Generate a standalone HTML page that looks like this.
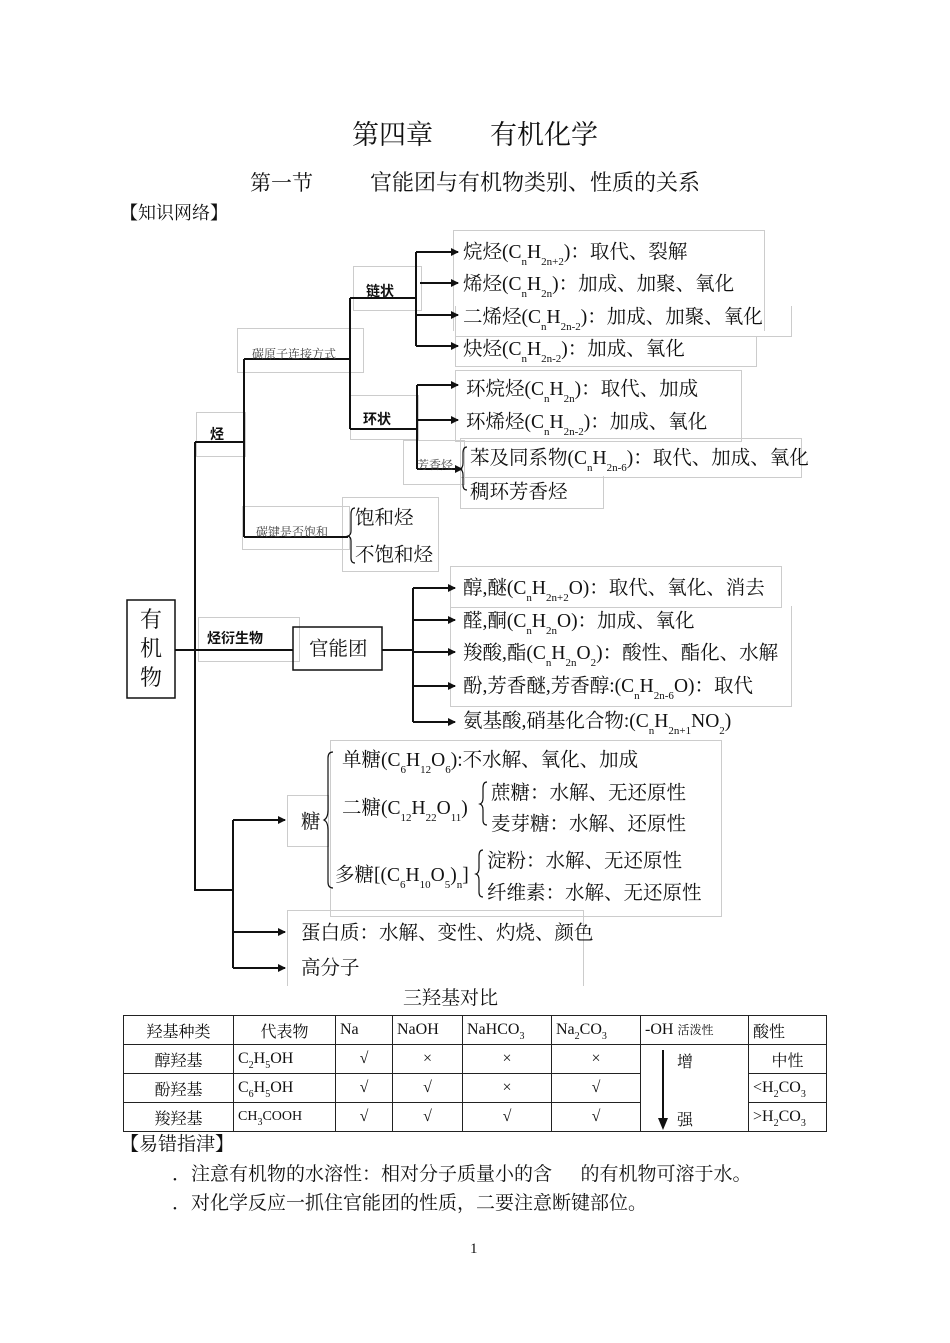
<!DOCTYPE html>
<html><head><meta charset="utf-8"><style>
body{margin:0;background:#fff;}
#p{position:relative;width:950px;height:1343px;overflow:hidden;font-family:"Liberation Serif","Noto Serif CJK SC","Noto Sans CJK SC",serif;color:#111;}
.t{position:absolute;white-space:nowrap;font-size:19.5px;line-height:22px;}
.s{position:absolute;white-space:nowrap;font-size:12px;line-height:14px;color:#444;}
.b{position:absolute;white-space:nowrap;font-size:14px;line-height:16px;font-weight:bold;font-family:"Liberation Sans","Noto Sans CJK SC",sans-serif;}
sub{font-size:11px;vertical-align:-7px;line-height:0;}
.g{position:absolute;border:1px solid #ccc;}
table{position:absolute;left:123px;top:1015px;border-collapse:collapse;font-size:16px;}
td{border:1px solid #222;height:28px;padding:0 4px;white-space:nowrap;}
td sub{font-size:10px;vertical-align:-5px;}
</style></head><body><div id="p">
<div class="t" style="left:352px;top:119px;font-size:27px;line-height:32px;">第四章</div>
<div class="t" style="left:490px;top:119px;font-size:27px;line-height:32px;">有机化学</div>
<div class="t" style="left:250px;top:171px;font-size:21px;line-height:24px;">第一节</div>
<div class="t" style="left:370px;top:171px;font-size:22px;line-height:24px;">官能团与有机物类别、性质的关系</div>
<div class="t" style="left:120px;top:202px;font-size:18px;">【知识网络】</div>

<!-- grey boxes -->
<div class="g" style="left:196px;top:412px;width:48px;height:43px"></div>
<div class="g" style="left:237px;top:328px;width:125px;height:43px"></div>
<div class="g" style="left:353px;top:266px;width:67px;height:43px"></div>
<div class="g" style="left:350px;top:395px;width:67px;height:43px"></div>
<div class="g" style="left:403px;top:440px;width:60px;height:43px"></div>
<div class="g" style="left:242px;top:506px;width:106px;height:42px"></div>
<div class="g" style="left:453px;top:230px;width:310px;height:100px;border-bottom:none"></div>
<div class="g" style="left:455px;top:306px;width:335px;height:30px;border-top:none"></div>
<div class="g" style="left:455px;top:336px;width:300px;height:30px;border-top:none"></div>
<div class="g" style="left:455px;top:370px;width:285px;height:70px;"></div>
<div class="g" style="left:460px;top:438px;width:340px;height:38px;"></div>
<div class="g" style="left:460px;top:476px;width:142px;height:32px;border-top:none"></div>
<div class="g" style="left:342px;top:497px;width:95px;height:73px;"></div>
<div class="g" style="left:198px;top:617px;width:100px;height:43px;"></div>
<div class="g" style="left:450px;top:566px;width:330px;height:40px;"></div>
<div class="g" style="left:450px;top:606px;width:340px;height:100px;border-top:none"></div>
<div class="g" style="left:330px;top:740px;width:390px;height:175px;"></div>
<div class="g" style="left:287px;top:795px;width:40px;height:50px;"></div>
<div class="g" style="left:287px;top:910px;width:295px;height:75px;border-bottom:none"></div>

<svg width="950" height="1343" style="position:absolute;left:0;top:0" fill="none" stroke="#111">
<defs><marker id="a" markerWidth="8" markerHeight="8" refX="7" refY="4" orient="auto" markerUnits="userSpaceOnUse"><path d="M0,0L8,4L0,8z" fill="#111" stroke="none"/></marker></defs>
<g stroke-width="2">
<path d="M195,442V890H233"/>
<path d="M175,650H293"/>
<path d="M195,442H244M244,359V537M244,359H350M350,298V429M350,298H416M416,252V346M350,429H417M417,385V469M244,537H348"/>
<path d="M382,650H413M413,588V722"/>
<path d="M233,820V968"/>
</g>
<g stroke-width="2" marker-end="url(#a)">
<path d="M416,252H458"/><path d="M420,283H458"/><path d="M416,315H458"/><path d="M416,346H458"/>
<path d="M417,385H458"/><path d="M417,420H458"/><path d="M417,469H462"/>
<path d="M413,588H455"/><path d="M413,620H455"/><path d="M413,652H455"/><path d="M413,686H455"/><path d="M413,722H455"/>
<path d="M233,820H285"/><path d="M233,932H285"/><path d="M233,968H285"/>
</g>
<rect x="127" y="600" width="48" height="98" stroke-width="1.5"/>
<rect x="293" y="627" width="89" height="43" stroke-width="1.5"/>
<g stroke-width="1.2">
<path d="M355,508q-4,0,-4,6v17q0,4,-3,5q3,1,3,5v17q0,5,4,5"/>
<path d="M467,447q-4,0,-4,6v10q0,5,-3,6q3,1,3,6v10q0,5,4,5"/>
<path d="M333,752q-5,0,-5,6v52q0,8,-4,10q4,2,4,10v52q0,6,5,6"/>
<path d="M487,782q-4,0,-4,6v10q0,5,-3,6q3,1,3,6v10q0,5,4,5"/>
<path d="M483,850q-4,0,-4,6v12q0,5,-3,6q3,1,3,6v12q0,5,4,5"/>
</g>
</svg>

<div class="t" style="left:140px;top:605px;font-size:22px;line-height:29px;width:24px;">有<br>机<br>物</div>
<div class="t" style="left:309px;top:639px;">官能团</div>
<div class="b" style="left:210px;top:426px;">烃</div>
<div class="b" style="left:366px;top:283px;">链状</div>
<div class="b" style="left:363px;top:411px;">环状</div>
<div class="b" style="left:207px;top:630px;">烃衍生物</div>
<div class="s" style="left:252px;top:347px;">碳原子连接方式</div>
<div class="s" style="left:256px;top:525px;">碳键是否饱和</div>
<div class="s" style="left:417px;top:458px;">芳香烃</div>

<div class="t" style="left:463px;top:242px;">烷烃(C<sub>n</sub>H<sub>2n+2</sub>)：取代、裂解</div>
<div class="t" style="left:463px;top:274px;">烯烃(C<sub>n</sub>H<sub>2n</sub>)：加成、加聚、氧化</div>
<div class="t" style="left:463px;top:307px;">二烯烃(C<sub>n</sub>H<sub>2n-2</sub>)：加成、加聚、氧化</div>
<div class="t" style="left:463px;top:339px;">炔烃(C<sub>n</sub>H<sub>2n-2</sub>)：加成、氧化</div>
<div class="t" style="left:466px;top:379px;">环烷烃(C<sub>n</sub>H<sub>2n</sub>)：取代、加成</div>
<div class="t" style="left:466px;top:412px;">环烯烃(C<sub>n</sub>H<sub>2n-2</sub>)：加成、氧化</div>
<div class="t" style="left:470px;top:448px;">苯及同系物(C<sub>n</sub>H<sub>2n-6</sub>)：取代、加成、氧化</div>
<div class="t" style="left:470px;top:482px;">稠环芳香烃</div>
<div class="t" style="left:355px;top:508px;">饱和烃</div>
<div class="t" style="left:355px;top:545px;">不饱和烃</div>

<div class="t" style="left:463px;top:578px;">醇,醚(C<sub>n</sub>H<sub>2n+2</sub>O)：取代、氧化、消去</div>
<div class="t" style="left:463px;top:611px;">醛,酮(C<sub>n</sub>H<sub>2n</sub>O)：加成、氧化</div>
<div class="t" style="left:463px;top:643px;">羧酸,酯(C<sub>n</sub>H<sub>2n</sub>O<sub>2</sub>)：酸性、酯化、水解</div>
<div class="t" style="left:463px;top:676px;">酚,芳香醚,芳香醇:(C<sub>n</sub>H<sub>2n-6</sub>O)：取代</div>
<div class="t" style="left:463px;top:711px;">氨基酸,硝基化合物:(C<sub>n</sub>H<sub>2n+1</sub>NO<sub>2</sub>)</div>

<div class="t" style="left:301px;top:812px;">糖</div>
<div class="t" style="left:342px;top:750px;">单糖(C<sub>6</sub>H<sub>12</sub>O<sub>6</sub>):不水解、氧化、加成</div>
<div class="t" style="left:342px;top:798px;">二糖(C<sub>12</sub>H<sub>22</sub>O<sub>11</sub>)</div>
<div class="t" style="left:491px;top:783px;">蔗糖：水解、无还原性</div>
<div class="t" style="left:491px;top:814px;">麦芽糖：水解、还原性</div>
<div class="t" style="left:335px;top:865px;">多糖[(C<sub>6</sub>H<sub>10</sub>O<sub>5</sub>)<sub>n</sub>]</div>
<div class="t" style="left:487px;top:851px;">淀粉：水解、无还原性</div>
<div class="t" style="left:487px;top:883px;">纤维素：水解、无还原性</div>
<div class="t" style="left:301px;top:923px;">蛋白质：水解、变性、灼烧、颜色</div>
<div class="t" style="left:301px;top:958px;">高分子</div>

<div class="t" style="left:403px;top:988px;font-size:19px;">三羟基对比</div>
<table>
<colgroup><col style="width:110px"><col style="width:102px"><col style="width:57px"><col style="width:70px"><col style="width:89px"><col style="width:89px"><col style="width:108px"><col style="width:78px"></colgroup>
<tr><td style="text-align:center">羟基种类</td><td style="text-align:center">代表物</td><td>Na</td><td>NaOH</td><td>NaHCO<sub>3</sub></td><td>Na<sub>2</sub>CO<sub>3</sub></td><td>-OH <span style="font-size:12px">活泼性</span></td><td>酸性</td></tr>
<tr><td style="text-align:center">醇羟基</td><td>C<sub>2</sub>H<sub>5</sub>OH</td><td style="text-align:center">√</td><td style="text-align:center">×</td><td style="text-align:center">×</td><td style="text-align:center">×</td><td rowspan="3" style="position:relative;vertical-align:top"><svg width="20" height="80" style="position:absolute;left:14px;top:5px"><path d="M8,0V72" stroke="#111" stroke-width="2"/><path d="M3,68L8,80L13,68z" fill="#111"/></svg><span style="position:absolute;left:36px;top:4px">增</span><span style="position:absolute;left:36px;top:62px">强</span></td><td style="text-align:center">中性</td></tr>
<tr><td style="text-align:center">酚羟基</td><td>C<sub>6</sub>H<sub>5</sub>OH</td><td style="text-align:center">√</td><td style="text-align:center">√</td><td style="text-align:center">×</td><td style="text-align:center">√</td><td>&lt;H<sub>2</sub>CO<sub>3</sub></td></tr>
<tr><td style="text-align:center">羧羟基</td><td style="font-size:14px">CH<sub>3</sub>COOH</td><td style="text-align:center">√</td><td style="text-align:center">√</td><td style="text-align:center">√</td><td style="text-align:center">√</td><td>&gt;H<sub>2</sub>CO<sub>3</sub></td></tr>
</table>
<div class="t" style="left:120px;top:1134px;font-size:19px;">【易错指津】</div>
<div class="t" style="left:172px;top:1164px;font-size:19px;">．注意有机物的水溶性：相对分子质量小的含&nbsp;&nbsp;&nbsp;&nbsp;&nbsp;&nbsp;的有机物可溶于水。</div>
<div class="t" style="left:172px;top:1193px;font-size:19px;">．对化学反应一抓住官能团的性质，二要注意断键部位。</div>
<div class="t" style="left:470px;top:1238px;font-size:15px;">1</div>
</div></body></html>
